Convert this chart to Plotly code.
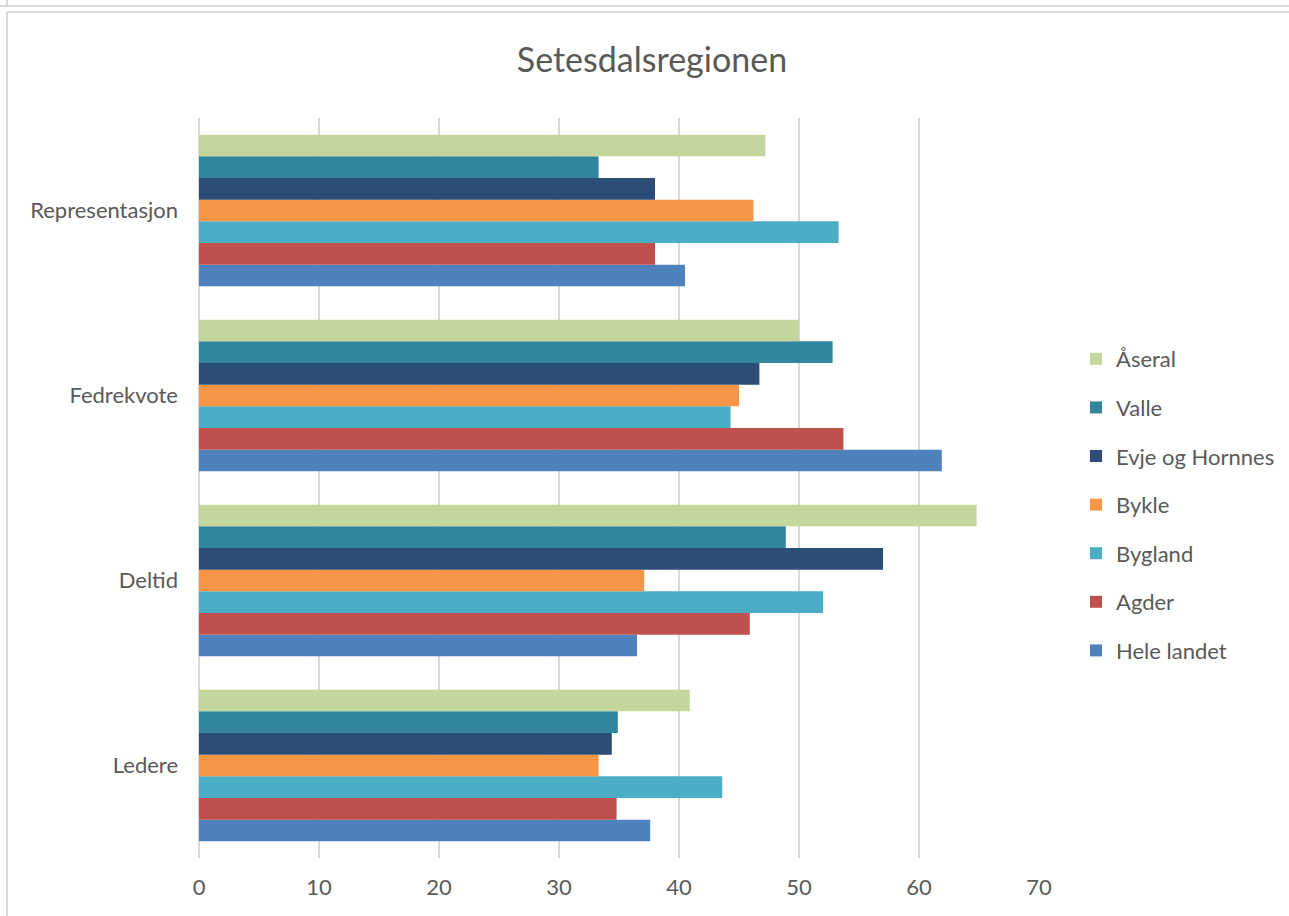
import plotly.graph_objects as go

categories = ["Ledere", "Deltid", "Fedrekvote", "Representasjon"]

# series listed bottom-to-top within each group
series_names = ["Hele landet", "Agder", "Bygland", "Bykle", "Evje og Hornnes", "Valle", "Åseral"]
hele_landet = [37.6, 36.5, 61.9, 40.5]
agder = [34.8, 45.9, 53.7, 38.0]
bygland = [43.6, 52.0, 44.3, 53.3]
bykle = [33.3, 37.1, 45.0, 46.2]
evje_og_hornnes = [34.4, 57.0, 46.7, 38.0]
valle = [34.9, 48.9, 52.8, 33.3]
aseral = [40.9, 64.8, 50.0, 47.2]

series_values = [hele_landet, agder, bygland, bykle, evje_og_hornnes, valle, aseral]
colors = ["#4F81BD", "#C0504D", "#4BACC6", "#F79646", "#2C4D75", "#31859C", "#C3D69B"]

x_ticks = [0, 10, 20, 30, 40, 50, 60, 70]

W, H = 1289, 916
L, R, T, B = 199, 250, 118, 58
pw, ph = W - L - R, H - T - B

def px(x):
    return (x - L) / pw

def py(y):
    return (H - B - y) / ph

fig = go.Figure()
n = len(series_names)
for i, (name, vals, col) in enumerate(zip(series_names, series_values, colors)):
    fig.add_trace(go.Bar(
        y=categories, x=vals, name=name, orientation="h",
        marker=dict(color=col, line=dict(width=0)),
        legendgroup=name, legendrank=n - i,
    ))

grid = "#D9D9D9"
shapes = [
    dict(type="line", xref="paper", yref="paper", x0=px(0), x1=px(W), y0=py(6), y1=py(6),
         line=dict(color=grid, width=2)),
    dict(type="line", xref="paper", yref="paper", x0=px(7), x1=px(7), y0=py(0), y1=py(6),
         line=dict(color=grid, width=2)),
    dict(type="line", xref="paper", yref="paper", x0=px(7), x1=px(W), y0=py(12), y1=py(12),
         line=dict(color=grid, width=2)),
    dict(type="line", xref="paper", yref="paper", x0=px(7), x1=px(7), y0=py(12), y1=py(H),
         line=dict(color=grid, width=2)),
]

fig.update_layout(
    width=W, height=H,
    margin=dict(l=L, r=R, t=T, b=B, pad=0, autoexpand=False),
    paper_bgcolor="white", plot_bgcolor="white",
    barmode="group", bargap=0.18, bargroupgap=0,
    font=dict(family="Lato", color="#595959", size=22),
    title=dict(text="Setesdalsregionen", x=px(652), xref="paper", xanchor="center",
               y=1 - 60 / H, yanchor="middle", yref="container",
               font=dict(family="Lato", size=34, color="#595959")),
    xaxis=dict(range=[0, 70], tickvals=x_ticks, showgrid=True, gridcolor=grid, gridwidth=2,
               zeroline=True, zerolinecolor=grid, zerolinewidth=2, showline=False,
               ticks="", ticklabelstandoff=14, tickfont=dict(size=22, color="#595959"),
               automargin=False),
    yaxis=dict(showgrid=False, zeroline=False, showline=False, ticks="",
               ticklabelstandoff=20, tickfont=dict(size=22, color="#595959"),
               automargin=False),
    legend=dict(traceorder="grouped", x=px(1076), xanchor="left", y=py(338), yanchor="top",
                font=dict(size=22, color="#595959"), tracegroupgap=17, bgcolor="rgba(0,0,0,0)"),
    shapes=shapes,
)

fig.write_html("out.html", config={"displayModeBar": False},
               post_script="document.body.style.margin='0';document.body.style.overflow='hidden';")
